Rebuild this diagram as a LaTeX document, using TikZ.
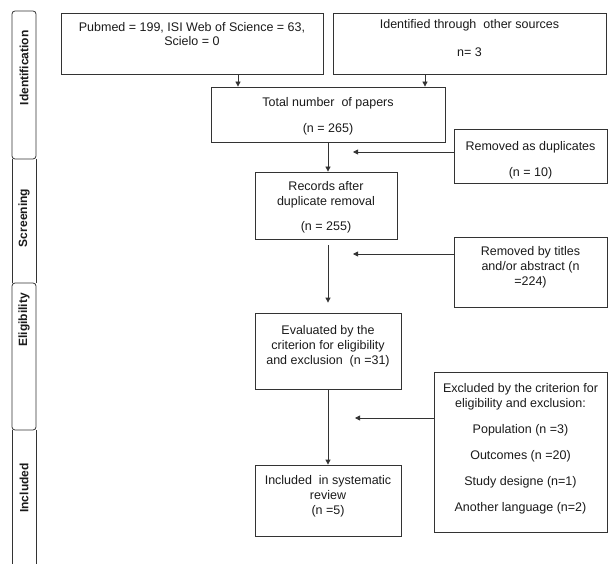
\documentclass[tikz,border=0pt]{standalone}
\usepackage{fontspec}
\setmainfont{Liberation Sans}
\usetikzlibrary{arrows.meta}
\definecolor{ln}{HTML}{333333}
\definecolor{tx}{HTML}{1A1A1A}
\tikzset{
  box/.style={draw=ln, line width=0.8pt, rectangle, inner sep=0pt},
  txt/.style={text=tx, align=center, font=\fontsize{12.5}{15}\selectfont, inner sep=0pt},
  side/.style={text=tx, rotate=90, font=\bfseries\fontsize{12}{14}\selectfont, inner sep=0pt},
  arr/.style={draw=ln, line width=0.8pt, -{Triangle[length=5pt,width=5pt]}},
  bar/.style={draw=ln, line width=0.8pt}
}
\begin{document}
\begin{tikzpicture}[x=1pt,y=-1pt]
\useasboundingbox (0,0) rectangle (608,564);
% side bar
\node[bar, rounded corners=3pt, minimum width=24pt, minimum height=148pt, rectangle] (sid) at (24,85) {};
\node[bar, rounded corners=3pt, minimum width=24pt, minimum height=147pt, rectangle] (sel) at (24,356.5) {};
\coordinate (s1) at (12,159); \coordinate (s2) at (12,283);
\coordinate (s3) at (36,159); \coordinate (s4) at (36,283);
\draw[bar] (s1) -- (s2); \draw[bar] (s3) -- (s4);
\coordinate (s5) at (12,430); \coordinate (s6) at (12,564);
\coordinate (s7) at (36,430); \coordinate (s8) at (36,564);
\draw[bar] (s5) -- (s6); \draw[bar] (s7) -- (s8);
\node[side] (lid) at (24,68) {Identification};
\node[side] (lsc) at (24,218) {Screening};
\node[side] (lel) at (24,320) {Eligibility};
\node[side] (lin) at (24,488) {Included};
% boxes
\node[box, minimum width=262pt, minimum height=61pt] (b1) at (192,43.5) {};
\node[box, minimum width=273pt, minimum height=61pt] (b2) at (469.5,43.5) {};
\node[box, minimum width=234pt, minimum height=55pt] (tot) at (328,114.5) {};
\node[box, minimum width=153pt, minimum height=54pt] (dup) at (530.5,156) {};
\node[box, minimum width=142pt, minimum height=67pt] (rec) at (326,205.5) {};
\node[box, minimum width=153pt, minimum height=70pt] (tit) at (530.5,272) {};
\node[box, minimum width=146pt, minimum height=76pt] (eva) at (328,351) {};
\node[box, minimum width=173pt, minimum height=160pt] (exc) at (520.5,452) {};
\node[box, minimum width=146pt, minimum height=71pt] (inc) at (328,500.5) {};
% texts
\node[txt] (t1) at (192,34) {Pubmed = 199, ISI Web of Science = 63,\\[-1pt] Scielo = 0};
\node[txt] (t2) at (469.5,38) {Identified through\ \ other sources\\[13pt] n= 3};
\node[txt] (t3) at (328,116) {Total number\ \ of papers\\[11pt] (n = 265)};
\node[txt] (t4) at (530.5,160) {Removed as duplicates\\[11pt] (n = 10)};
\node[txt] (t5) at (326,207.5) {Records after\\ duplicate removal\\[10pt] (n = 255)};
\node[txt] (t6) at (530.5,267) {Removed by titles\\ and/or abstract (n\\ =224)};
\node[txt] (t7) at (328,346) {Evaluated by the\\ criterion for eligibility\\ and exclusion\ \ (n =31)};
\node[txt] (t8) at (328,496.5) {Included\ \ in systematic\\ review\\ (n =5)};
\node[txt] (t9) at (520.5,449) {Excluded by the criterion for\\ eligibility and exclusion:\\[11pt] Population (n =3)\\[11pt] Outcomes (n =20)\\[11pt] Study designe (n=1)\\[11pt] Another language (n=2)};
% connectors
\coordinate (x1) at (238,0);
\coordinate (x2) at (425,0);
\coordinate (xc) at (328,0);
\draw[arr] (b1.south -| x1) -- (tot.north -| x1);
\draw[arr] (b2.south -| x2) -- (tot.north -| x2);
\draw[arr] (tot.south -| xc) -- (rec.north -| xc);
\coordinate (p1) at (353,152);
\draw[arr] (dup.west |- p1) -- (p1);
\draw[arr, shorten <=6pt, shorten >=10pt] (rec.south -| xc) -- (eva.north -| xc);
\coordinate (p2) at (353,254);
\draw[arr] (tit.west |- p2) -- (p2);
\draw[arr] (eva.south -| xc) -- (inc.north -| xc);
\coordinate (p3) at (355,418);
\draw[arr] (exc.west |- p3) -- (p3);
\end{tikzpicture}
\end{document}
